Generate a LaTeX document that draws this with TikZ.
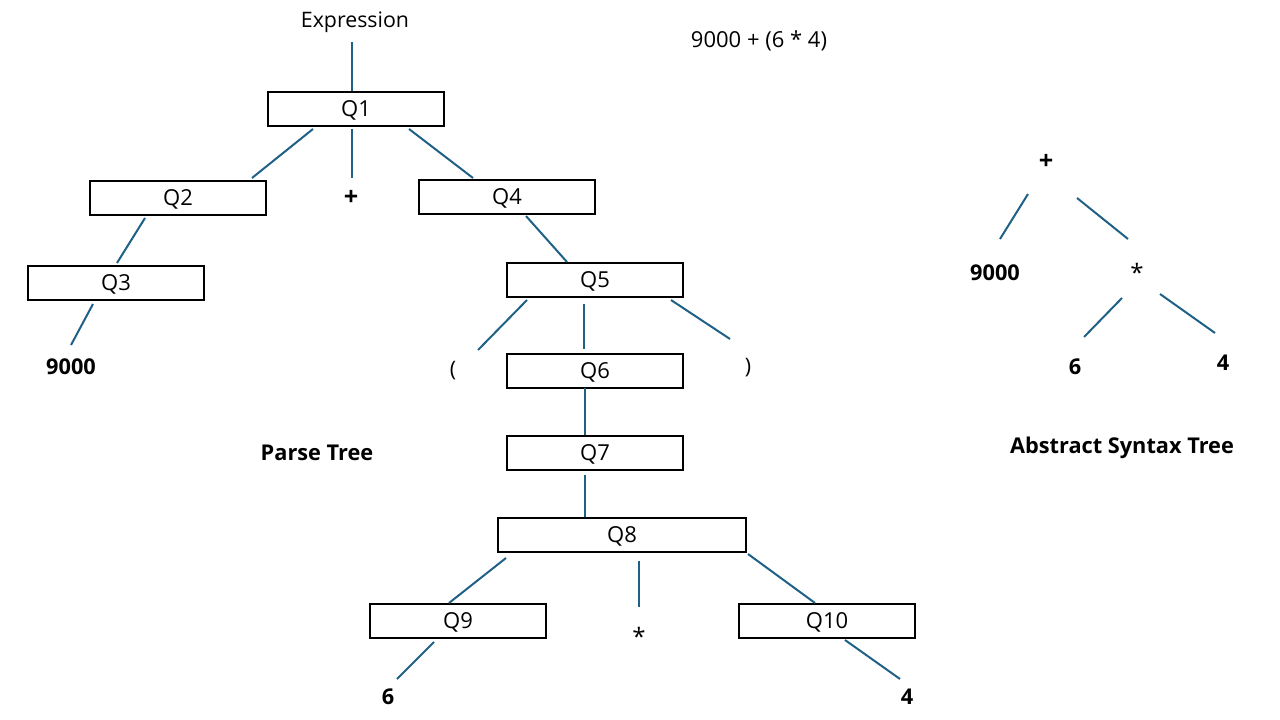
\documentclass[tikz,border=0pt]{standalone}
\usepackage{fontspec}
\setmainfont{Open Sans}
\usepackage{xcolor}
\usetikzlibrary{calc, positioning}

\definecolor{edgeblue}{RGB}{31,96,135}

\tikzset{
    qbox/.style={draw=black, line width=1.5pt, minimum width=132pt, minimum height=25pt, inner sep=0pt, text height=11.8pt, text depth=0pt, font=\fontsize{16.5}{18}\selectfont},
    txt/.style={inner sep=0pt, font=\fontsize{16}{18}\selectfont},
    leaf/.style={inner sep=0pt, font=\bfseries\fontsize{16.3}{18}\selectfont},
    oper/.style={inner sep=0pt, font=\bfseries\fontsize{19}{20}\selectfont},
    edge/.style={draw=edgeblue, line width=1.5pt}
}

\begin{document}
\begin{tikzpicture}[x=0.75pt, y=-0.75pt]
    \useasboundingbox (0,0) rectangle (1280,720);

    % Cây phân tích cú pháp
    \node[txt] (expr) at (355,22) {Expression};
    \node[qbox] (q1) at (356,109) {Q1};
    \node[qbox] (q2) at (178,198) {Q2};
    \node[oper] (plus1) at (351,198) {+};
    \node[qbox] (q4) at (507,197) {Q4};
    \node[qbox] (q3) at (116,283) {Q3};
    \node[leaf] (n9000) at (71,367) {9000};
    \node[qbox] (q5) at (595,280) {Q5};
    \node[txt] (lpar) at (453,371) {(};
    \node[qbox] (q6) at (595,371) {Q6};
    \node[txt] (rpar) at (748,368) {)};
    \node[qbox] (q7) at (595,453) {Q7};
    \node[qbox, minimum width=186.5pt] (q8) at (622,535) {Q8};
    \node[qbox] (q9) at (458,621) {Q9};
    \node[txt, font=\fontsize{18}{20}\selectfont] (star1) at (639,636) {*};
    \node[qbox] (q10) at (827,621) {Q10};
    \node[leaf] (n6) at (388,697) {6};
    \node[leaf] (n4) at (907,697) {4};
    \node[leaf] (ptree) at (317,453) {Parse Tree};

    % Biểu thức
    \node[txt, font=\fontsize{16.5}{18}\selectfont] (sum) at (759,41) {9000 + (6 * 4)};

    % Các cạnh của cây phân tích
    \draw[edge] ($(expr)+(-3,20)$) -- ($(q1)+(-4,-18)$);
    \draw[edge] ($(q1)+(-43,20)$) -- ($(q2)+(74,-20)$);
    \draw[edge] ($(q1)+(-4,20)$) -- ($(plus1)+(1,-20)$);
    \draw[edge] ($(q1)+(53,20)$) -- ($(q4)+(-34,-19)$);
    \draw[edge] ($(q2)+(-33,20)$) -- ($(q3)+(1,-20)$);
    \draw[edge] ($(q3)+(-23,21)$) -- ($(n9000)+(0,-22)$);
    \draw[edge] ($(q4)+(19,19)$) -- ($(q5)+(-28,-18)$);
    \draw[edge] ($(q5)+(-68,20)$) -- ($(lpar)+(25,-21)$);
    \draw[edge] ($(q5)+(-11,24)$) -- ($(q6)+(-11,-22)$);
    \draw[edge] ($(q5)+(76,20)$) -- ($(rpar)+(-18,-29)$);
    \draw[edge] ($(q6)+(-10,17)$) -- ($(q7)+(-10,-18)$);
    \draw[edge] ($(q7)+(-10,22)$) -- ($(q8)+(-37,-18)$);
    \draw[edge] ($(q8)+(-116,23)$) -- ($(q9)+(-9,-18)$);
    \draw[edge] ($(q8)+(17,26)$) -- ($(star1)+(0,-29)$);
    \draw[edge] ($(q8)+(126,19)$) -- ($(q10)+(-12,-18)$);
    \draw[edge] ($(q9)+(-24,21)$) -- ($(n6)+(9,-18)$);
    \draw[edge] ($(q10)+(18,19)$) -- ($(n4)+(-7,-18)$);

    % Cây cú pháp trừu tượng
    \node[oper] (aplus) at (1046,162) {+};
    \node[leaf] (a9000) at (995,273) {9000};
    \node[txt, font=\fontsize{18}{20}\selectfont] (astar) at (1137,272) {*};
    \node[leaf] (asix) at (1075,367) {6};
    \node[leaf] (afour) at (1223,363) {4};
    \node[leaf] (atree) at (1122,448) {Abstract Syntax Tree};

    \draw[edge] ($(aplus)+(-18,32)$) -- ($(a9000)+(5,-34)$);
    \draw[edge] ($(aplus)+(31,36)$) -- ($(astar)+(-9,-33)$);
    \draw[edge] ($(astar)+(-15,26)$) -- ($(asix)+(9,-30)$);
    \draw[edge] ($(astar)+(23,22)$) -- ($(afour)+(-8,-30)$);
\end{tikzpicture}
\end{document}
